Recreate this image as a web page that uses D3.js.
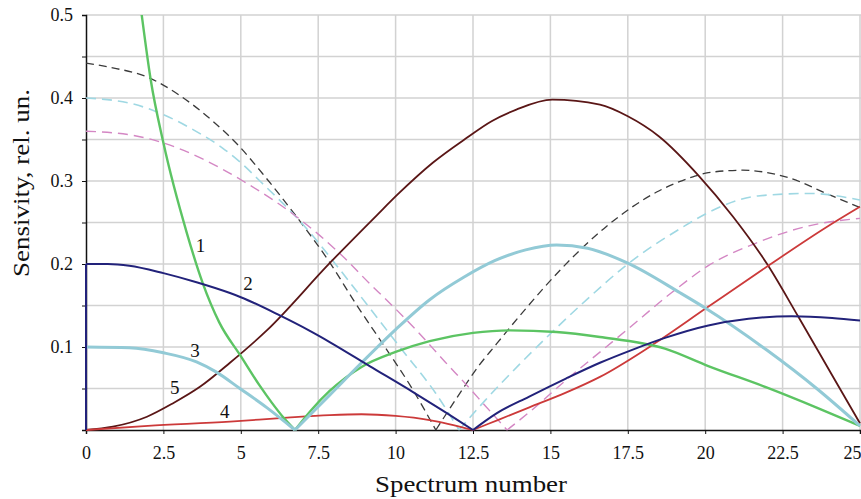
<!DOCTYPE html>
<html>
<head>
<meta charset="utf-8">
<script src="https://cdn.jsdelivr.net/npm/d3@7"></script>
<style>
body { margin: 0; background: #fff; }
text { font-family: "Liberation Serif", "Times New Roman", serif; fill: #111; }
</style>
</head>
<body>
<div id="chart"></div>
<script>
// AXES
var xTicks = [0, 2.5, 5, 7.5, 10, 12.5, 15, 17.5, 20, 22.5, 25];
var yTicks = [0, 0.05, 0.1, 0.15, 0.2, 0.25, 0.3, 0.35, 0.4, 0.45, 0.5];
var yLabelled = [0.1, 0.2, 0.3, 0.4, 0.5];

// DATA  [spectrum number, sensitivity]
var curve1 = [[1.5,0.59],[1.8,0.5],[2.09,0.422],[2.5,0.346],[3.26,0.237],[3.77,0.177],[4.3,0.13],[5,0.089],
  [5.6,0.054],[6.0,0.033],[6.4,0.014],[6.75,0],[7.3,0.025],[7.87,0.047],[8.9,0.076],[10,0.094],[11.1,0.107],
  [12.5,0.117],[13.7,0.12],[15.2,0.118],[16.6,0.112],[18.7,0.098],[20.1,0.077],[22,0.051],[23.6,0.027],[25,0.005]];
var curve2 = [[0,0],[0,0.2],[0.7,0.2],[1.4,0.198],[2.5,0.189],[3.57,0.178],[4.65,0.165],[5,0.16],[6.26,0.138],
  [7.2,0.12],[7.87,0.106],[9.16,0.077],[10.55,0.046],[11.5,0.024],[12.5,0],[13.26,0.02],[14.3,0.04],[15.5,0.062],
  [16.6,0.081],[17.6,0.096],[18.7,0.111],[20.1,0.126],[21.4,0.134],[22.8,0.137],[24.1,0.135],[25,0.132]];
var curve3 = [[0,0.1],[1.4,0.099],[2.5,0.093],[3.57,0.082],[4.2,0.07],[4.97,0.05],[5.84,0.027],[6.75,0],
  [7.87,0.042],[8.9,0.081],[10,0.121],[11.1,0.157],[12.2,0.184],[13.2,0.204],[14.2,0.217],[15.2,0.223],[16.2,0.219],
  [17.5,0.201],[19.2,0.165],[20,0.147],[22,0.096],[23.6,0.05],[25,0.005]];
var curve4 = [[0,0],[2,0.005],[4.65,0.01],[6.5,0.015],[7.87,0.018],[8.9,0.019],[10,0.017],[11.1,0.012],[12.5,0],
  [13.3,0.012],[14.3,0.027],[15.5,0.045],[16.6,0.064],[18.4,0.105],[20,0.146],[22,0.197],[23.9,0.244],[25,0.269]];
var curve5 = [[0,0],[0.87,0.004],[1.97,0.016],[2.8,0.032],[3.68,0.052],[4.65,0.081],[5.84,0.12],[7.87,0.201],
  [9.4,0.259],[10.1,0.285],[11.2,0.322],[12.3,0.352],[13.1,0.372],[13.9,0.386],[15.06,0.398],[16.6,0.392],
  [17.5,0.378],[18.5,0.354],[19.8,0.306],[20.9,0.257],[22,0.2],[23,0.137],[24.1,0.066],[25,0.008]];
var dashBlack = [[0,0.442],[0.77,0.437],[2.06,0.424],[3.03,0.403],[4.1,0.372],[4.97,0.341],[5.7,0.309],[6.8,0.257],
  [7.87,0.202],[8.7,0.153],[9.6,0.103],[10.5,0.052],[11.3,0],[12,0.04],[12.7,0.078],[13.2,0.101],[14.2,0.146],
  [15.4,0.196],[16.8,0.245],[18.5,0.288],[19.6,0.305],[20.1,0.31],[21.2,0.313],[22.6,0.305],[24.1,0.282],[25,0.268]];
var dashCyan = [[0,0.4],[1.5,0.393],[2.5,0.38],[3.5,0.361],[4.4,0.34],[5,0.322],[5.7,0.297],[7,0.248],[8.1,0.198],
  [9.1,0.15],[10.2,0.097],[11.3,0.044],[12.05,0],[12.9,0.036],[14,0.079],[15,0.116],[16.2,0.158],[17.5,0.2],
  [19.3,0.245],[20.1,0.262],[21.7,0.282],[23.4,0.285],[25,0.277]];
var dashPink = [[0,0.36],[1.52,0.355],[2.4,0.347],[3.8,0.326],[5.07,0.3],[6.8,0.257],[7.5,0.236],[8.3,0.209],
  [9.2,0.175],[9.7,0.157],[10.7,0.119],[11.6,0.082],[12.3,0.054],[12.9,0.029],[13.6,0],[14.4,0.024],[15.5,0.06],
  [16.8,0.1],[17.45,0.12],[18.9,0.165],[20.1,0.198],[21.7,0.226],[23.35,0.246],[25,0.255]];

// curve numbers written on the chart
var labelText = ['1', '2', '3', '4', '5'];
var labelX = [3.7, 5.23, 3.52, 4.48, 2.87];
var labelY = [0.223, 0.177, 0.096, 0.022, 0.051];

var series = [
  { data: dashBlack, color: '#3a3a3a', width: 1.3, dash: '8,5' },
  { data: dashCyan, color: '#9fd8e3', width: 1.6, dash: '10,6' },
  { data: dashPink, color: '#d487c4', width: 1.4, dash: '10,6' },
  { data: curve5, color: '#5a1616', width: 1.8 },
  { data: curve4, color: '#cc3a3a', width: 1.8 },
  { data: curve1, color: '#5cc463', width: 2.4 },
  { data: curve3, color: '#92cad6', width: 3 },
  { data: curve2, color: '#22227a', width: 2 }
];

// GRAPHICS
var width = 861, height = 499;
var margin = { left: 86, top: 15, bottom: 69 };

var svg = d3.select('#chart').append('svg').attr('width', width).attr('height', height);

var x = d3.scaleLinear().domain([0, 25]).range([margin.left, width - 1]);
var y = d3.scaleLinear().domain([0, 0.5]).range([height - margin.bottom, margin.top]);

// grid
svg.append('g').selectAll('line').data(xTicks.slice(1)).enter().append('line')
  .attr('x1', x).attr('x2', x).attr('y1', y(0)).attr('y2', y(0.5))
  .style('stroke', '#d2d2d2').style('stroke-width', 1.5);
svg.append('g').selectAll('line').data(yTicks.slice(1)).enter().append('line')
  .attr('x1', x(0)).attr('x2', width).attr('y1', y).attr('y2', y)
  .style('stroke', '#d2d2d2').style('stroke-width', 1.5);

// axes
var yAxis = svg.append('g').attr('transform', 'translate(' + x(0) + ',0)')
  .call(d3.axisLeft(y).tickValues(yTicks).tickSize(4).tickPadding(9)
    .tickFormat(function(d) { return yLabelled.indexOf(d) >= 0 ? String(d) : ''; }));
var xAxis = svg.append('g').attr('transform', 'translate(0,' + y(0) + ')')
  .call(d3.axisBottom(x).tickValues(xTicks).tickSize(4).tickPadding(12).tickFormat(String));

[xAxis, yAxis].forEach(function(a) {
  a.attr('font-family', 'Liberation Serif').attr('font-size', 18);
  a.select('.domain').style('stroke', '#111').style('stroke-width', 1.5);
  a.selectAll('.tick line').style('stroke', '#111');
  a.selectAll('text').style('fill', '#111');
});
// last label sits against the right edge, as in the original
xAxis.selectAll('.tick text').filter(function(d) { return d === 25; })
  .attr('text-anchor', 'end').attr('x', 1);

// curves
svg.append('clipPath').attr('id', 'plot').append('rect')
  .attr('x', x(0) - 2).attr('y', y(0.5)).attr('width', width).attr('height', y(0) - y(0.5) + 2);

var line = d3.line()
  .x(function(d) { return x(d[0]); })
  .y(function(d) { return y(d[1]); })
  .curve(d3.curveMonotoneX);

var plot = svg.append('g').attr('clip-path', 'url(#plot)');
series.forEach(function(s) {
  plot.selectAll(null).data(lobes(s.data)).enter().append('path')
    .attr('d', line)
    .style('fill', 'none')
    .style('stroke', s.color)
    .style('stroke-width', s.width)
    .style('stroke-dasharray', s.dash || null)
    .style('stroke-linejoin', 'round');
});

// curve numbers
svg.append('g').selectAll('text').data(labelText).enter().append('text')
  .attr('x', function(d, i) { return x(labelX[i]); })
  .attr('y', function(d, i) { return y(labelY[i]); })
  .attr('dy', '.35em')
  .attr('text-anchor', 'middle')
  .style('font-size', '19px')
  .text(function(d) { return d; });

// axis titles
svg.append('text')
  .attr('x', 471).attr('y', 492)
  .attr('text-anchor', 'middle')
  .attr('textLength', 192).attr('lengthAdjust', 'spacingAndGlyphs')
  .style('font-size', '24px')
  .text('Spectrum number');

svg.append('text')
  .attr('transform', 'translate(29,183) rotate(-90)')
  .attr('text-anchor', 'middle')
  .attr('textLength', 188).attr('lengthAdjust', 'spacingAndGlyphs')
  .style('font-size', '24px')
  .text('Sensivity, rel. un.');

// UTILS

// split a curve into lobes at its zeros (cusps) and at vertical jumps
function lobes(points) {
  var parts = [], cur = [points[0]];
  for (var i = 1; i < points.length; i++) {
    var p = points[i], prev = points[i - 1];
    if (p[0] === prev[0]) {
      if (cur.length > 1) parts.push(cur);
      parts.push([prev, p]);
      cur = [p];
      continue;
    }
    cur.push(p);
    if (p[1] === 0 && i < points.length - 1) {
      parts.push(cur);
      cur = [p];
    }
  }
  parts.push(cur);
  return parts;
}
</script>
</body>
</html>
